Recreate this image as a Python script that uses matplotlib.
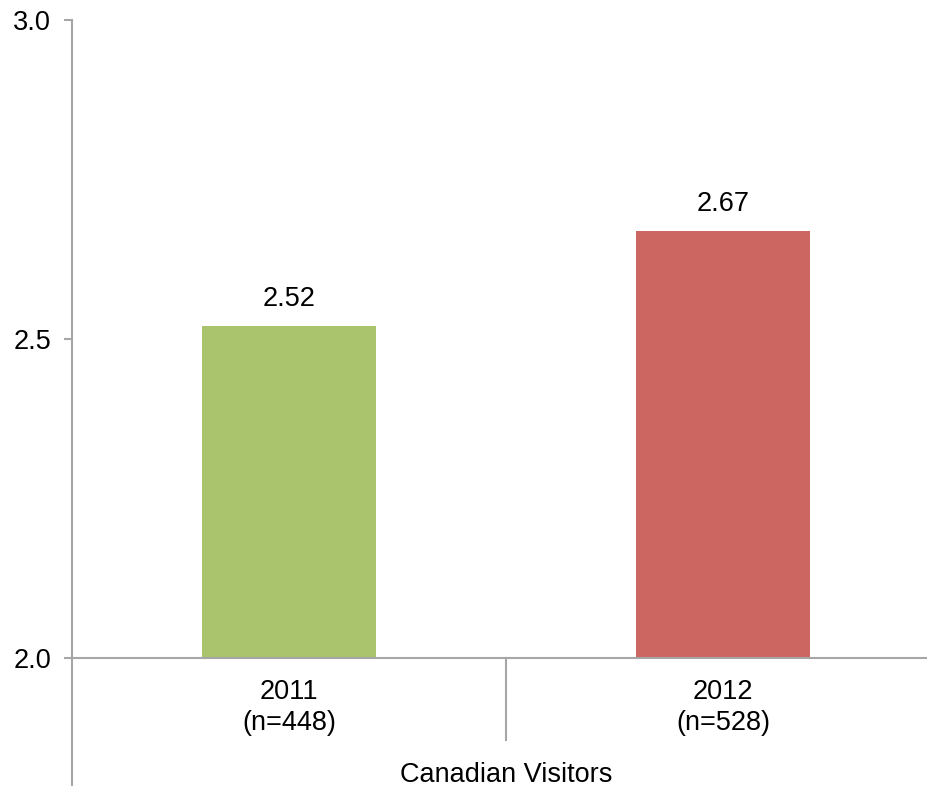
import matplotlib
matplotlib.use("Agg")
import matplotlib.pyplot as plt

years = ["2011", "2012"]
sample_sizes = ["(n=448)", "(n=528)"]
scores = [2.52, 2.67]
bar_colors = ["#A9C46C", "#CC6660"]
group_label = "Canadian Visitors"
y_ticks = [2.0, 2.5, 3.0]

plt.rcParams["font.family"] = ["Liberation Sans", "DejaVu Sans"]
AXIS_GREY = "#A6A6A6"
FS = 19.5

fig = plt.figure(figsize=(9.28, 7.86), dpi=100)
ax = fig.add_axes([72 / 928, 1 - 658 / 786, 856 / 928, 638 / 786])

x = list(range(len(years)))
ax.bar(x, scores, width=0.40, color=bar_colors, zorder=2)
for xi, v in zip(x, scores):
    ax.annotate(f"{v:.2f}", (xi, v), xytext=(0, 10), textcoords="offset points",
                ha="center", va="bottom", fontsize=FS)

ax.set_xlim(-0.5, -0.5 + 856 / 434)
ax.set_ylim(2.0, 3.0)
ax.set_yticks(y_ticks)
ax.set_yticklabels([f"{t:.1f}" for t in y_ticks], fontsize=FS)
ax.tick_params(axis="y", length=6, width=1.5, color=AXIS_GREY, pad=9)
ax.set_xticks([])

for side in ["top", "right"]:
    ax.spines[side].set_visible(False)
for side in ["left", "bottom"]:
    ax.spines[side].set_color(AXIS_GREY)
    ax.spines[side].set_linewidth(1.5)
ax.spines["left"].set_bounds(2.0, 3.0)

# left axis runs down past the category labels, divider between years
trans = ax.get_xaxis_transform()
ax.plot([-0.5, -0.5], [0, -0.2], transform=trans, color=AXIS_GREY, lw=1.5, clip_on=False)
ax.plot([0.5, 0.5], [0, -0.129], transform=trans, color=AXIS_GREY, lw=1.5, clip_on=False)

for xi, yr, n in zip(x, years, sample_sizes):
    ax.text(xi, -0.077, f"{yr}\n{n}", transform=trans, ha="center", va="center",
            fontsize=FS, linespacing=1.25)
ax.text(0.5, -0.183, group_label, transform=trans, ha="center", va="center", fontsize=FS)

fig.savefig("out.png", dpi=100)
